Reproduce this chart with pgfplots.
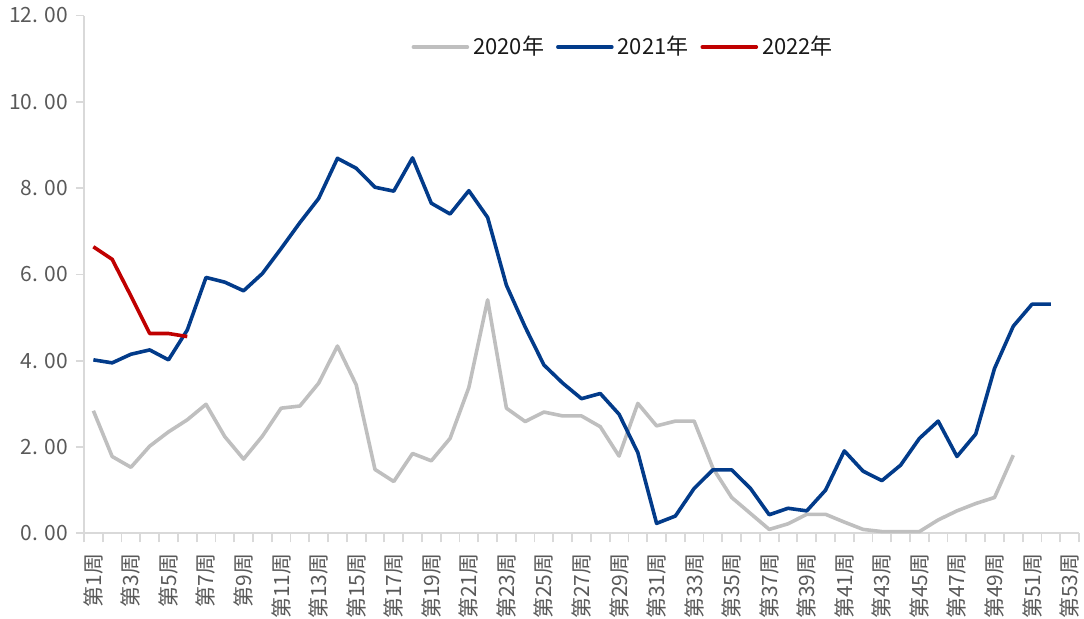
\documentclass[border=0pt]{standalone}
\usepackage{pgfplots}
\pgfplotsset{compat=1.18}
\usepackage{fontspec}
\setmainfont{Noto Sans CJK SC}
\definecolor{c20}{HTML}{BFBFBF}
\definecolor{c21}{HTML}{023B8A}
\definecolor{c22}{HTML}{C00000}
\definecolor{axgray}{HTML}{D9D9D9}
\definecolor{lblgray}{HTML}{595959}
\begin{document}
\begin{tikzpicture}
\useasboundingbox (-42pt,-42.35pt) rectangle (500pt,266.65pt);
\begin{axis}[
  scale only axis,
  width=497.5pt, height=258.9pt,
  xmin=0.5, xmax=53.5, ymin=0, ymax=12,
  axis lines=left,
  axis line style={draw=axgray, line width=0.9pt, -},
  tick align=outside,
  ytick={0,2,...,12},
  yticklabels={0. 00,2. 00,4. 00,6. 00,8. 00,10. 00,12. 00},
  yticklabel style={font=\fontsize{10.5pt}{12pt}\selectfont, text=lblgray, xshift=-0.5pt},
  major y tick style={draw=axgray, line width=0.9pt},
  major tick length=4pt,
  xtick={1,3,...,53},
  xticklabels={第1周,第3周,第5周,第7周,第9周,第11周,第13周,第15周,第17周,第19周,第21周,第23周,第25周,第27周,第29周,第31周,第33周,第35周,第37周,第39周,第41周,第43周,第45周,第47周,第49周,第51周,第53周},
  major x tick style={draw=none},
  minor xtick={0.5,1.5,...,53.5},
  minor x tick style={draw=axgray, line width=0.9pt},
  minor tick length=4.5pt,
  xticklabel style={font=\fontsize{10.5pt}{12pt}\selectfont, text=lblgray, rotate=90, anchor=east, xshift=-2.5pt},
  legend style={draw=none, fill=none, at={(0.543,0.939)}, anchor=center,
    font=\fontsize{11pt}{13pt}\selectfont, text=black!90,
    /tikz/every even column/.append style={column sep=4pt}},
  legend columns=3,
  legend image code/.code={\draw[#1, line cap=round] (0pt,0pt) -- (27pt,0pt);},
  every axis plot/.append style={line width=1.8pt, line join=round, mark=none},
]
\addplot[c20] coordinates {
(1,2.84)(2,1.78)(3,1.53)(4,2.02)(5,2.35)(6,2.63)(7,2.99)(8,2.24)(9,1.72)(10,2.25)
(11,2.90)(12,2.95)(13,3.48)(14,4.34)(15,3.44)(16,1.48)(17,1.20)(18,1.85)(19,1.68)(20,2.20)
(21,3.38)(22,5.41)(23,2.90)(24,2.59)(25,2.81)(26,2.72)(27,2.72)(28,2.47)(29,1.79)(30,3.01)
(31,2.49)(32,2.60)(33,2.60)(34,1.51)(35,0.83)(36,0.46)(37,0.09)(38,0.22)(39,0.44)(40,0.44)
(41,0.26)(42,0.09)(43,0.04)(44,0.04)(45,0.04)(46,0.31)(47,0.52)(48,0.69)(49,0.83)(50,1.81)
};
\addlegendentry{2020年}
\addplot[c21] coordinates {
(1,4.02)(2,3.95)(3,4.15)(4,4.25)(5,4.02)(6,4.71)(7,5.93)(8,5.82)(9,5.62)(10,6.02)
(11,6.60)(12,7.20)(13,7.76)(14,8.69)(15,8.46)(16,8.02)(17,7.93)(18,8.70)(19,7.65)(20,7.40)
(21,7.94)(22,7.32)(23,5.75)(24,4.78)(25,3.90)(26,3.48)(27,3.12)(28,3.24)(29,2.76)(30,1.87)
(31,0.23)(32,0.40)(33,1.04)(34,1.47)(35,1.47)(36,1.04)(37,0.43)(38,0.58)(39,0.52)(40,1.00)
(41,1.91)(42,1.44)(43,1.22)(44,1.58)(45,2.20)(46,2.60)(47,1.78)(48,2.30)(49,3.82)(50,4.80)
(51,5.31)(52,5.31)
};
\addlegendentry{2021年}
\addplot[c22] coordinates {
(1,6.64)(2,6.35)(3,5.50)(4,4.63)(5,4.63)(6,4.56)
};
\addlegendentry{2022年}
\end{axis}
\end{tikzpicture}
\end{document}
